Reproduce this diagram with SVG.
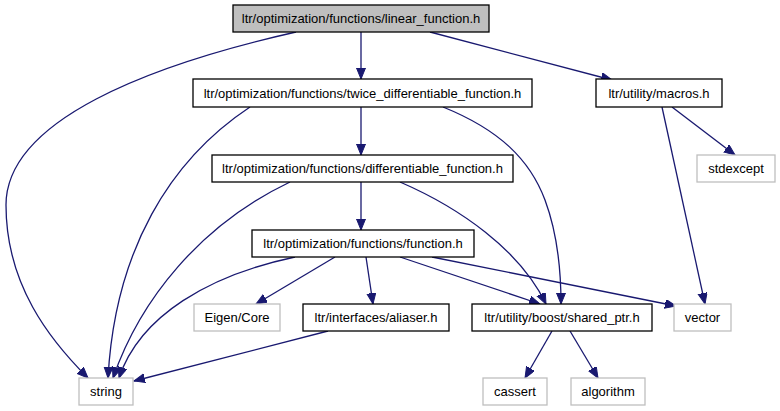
<svg xmlns="http://www.w3.org/2000/svg" width="780" height="411" viewBox="0 0 780 411">
<style>
.n rect{fill:#ffffff;stroke:#000000;stroke-width:1.3}
.root rect{fill:#bfbfbf}
.ext rect{stroke:#bfbfbf}
.n text{font-family:"Liberation Sans",Arial,sans-serif;font-size:13px;fill:#000000;text-anchor:middle}
.e path{fill:none;stroke:#191970;stroke-width:1.3}
</style>
<defs>
<marker id="ah" markerUnits="userSpaceOnUse" markerWidth="12" markerHeight="10" refX="11" refY="4.5" orient="auto">
<path d="M0,0 L11,4.5 L0,9 z" fill="#191970" stroke="#191970" stroke-width="1"/>
</marker>
</defs>
<rect x="0" y="0" width="780" height="411" fill="#ffffff"/>
<g id="edges" class="e">
<path marker-end="url(#ah)" d="M296,32 C150,65 6,120 6,205 C6,285 50,340 88,378"/>
<path marker-end="url(#ah)" d="M361,32 L361,79"/>
<path marker-end="url(#ah)" d="M430,32 L612,80"/>
<path marker-end="url(#ah)" d="M250,107 C170,160 115,250 108,378"/>
<path marker-end="url(#ah)" d="M361,107 L361,155"/>
<path marker-end="url(#ah)" d="M443,107 C500,130 530,160 545,200 C558,235 561,270 561,304"/>
<path marker-end="url(#ah)" d="M672,107 L735,155"/>
<path marker-end="url(#ah)" d="M662,107 L705,304"/>
<path marker-end="url(#ah)" d="M290,182 C200,225 140,300 113,378"/>
<path marker-end="url(#ah)" d="M361,182 L361,230"/>
<path marker-end="url(#ah)" d="M400,182 C460,208 520,250 546,304"/>
<path marker-end="url(#ah)" d="M295,257 C210,275 140,315 119,378"/>
<path marker-end="url(#ah)" d="M335,257 L256,304"/>
<path marker-end="url(#ah)" d="M366,257 L373,304"/>
<path marker-end="url(#ah)" d="M400,257 L540,304"/>
<path marker-end="url(#ah)" d="M432,257 L676,306"/>
<path marker-end="url(#ah)" d="M328,331 L134,381"/>
<path marker-end="url(#ah)" d="M552,331 L525,378"/>
<path marker-end="url(#ah)" d="M570,331 L598,378"/>
</g>
<g id="node-linear_function" class="n root"><rect x="233" y="5" width="256" height="27"/><text x="361" y="23">ltr/optimization/functions/linear_function.h</text></g>
<g id="node-twice" class="n"><rect x="193" y="79" width="339" height="28"/><text x="362.5" y="97.5">ltr/optimization/functions/twice_differentiable_function.h</text></g>
<g id="node-macros" class="n"><rect x="596" y="79" width="126" height="28"/><text x="659" y="97.5">ltr/utility/macros.h</text></g>
<g id="node-stdexcept" class="n ext"><rect x="697" y="155" width="78" height="27"/><text x="736" y="173">stdexcept</text></g>
<g id="node-differentiable" class="n"><rect x="212" y="155" width="301" height="27"/><text x="362.5" y="173">ltr/optimization/functions/differentiable_function.h</text></g>
<g id="node-function" class="n"><rect x="252" y="230" width="222" height="27"/><text x="363" y="248">ltr/optimization/functions/function.h</text></g>
<g id="node-eigen" class="n ext"><rect x="194" y="304" width="86" height="27"/><text x="237" y="322">Eigen/Core</text></g>
<g id="node-aliaser" class="n"><rect x="303" y="304" width="146" height="27"/><text x="376" y="322">ltr/interfaces/aliaser.h</text></g>
<g id="node-shared_ptr" class="n"><rect x="472" y="304" width="180" height="27"/><text x="562" y="322">ltr/utility/boost/shared_ptr.h</text></g>
<g id="node-vector" class="n ext"><rect x="674" y="304" width="57" height="27"/><text x="702.5" y="322">vector</text></g>
<g id="node-string" class="n ext"><rect x="79" y="378" width="54" height="27"/><text x="106" y="396">string</text></g>
<g id="node-cassert" class="n ext"><rect x="483" y="378" width="64" height="27"/><text x="515" y="396">cassert</text></g>
<g id="node-algorithm" class="n ext"><rect x="571" y="378" width="74" height="27"/><text x="608" y="396">algorithm</text></g>
</svg>
